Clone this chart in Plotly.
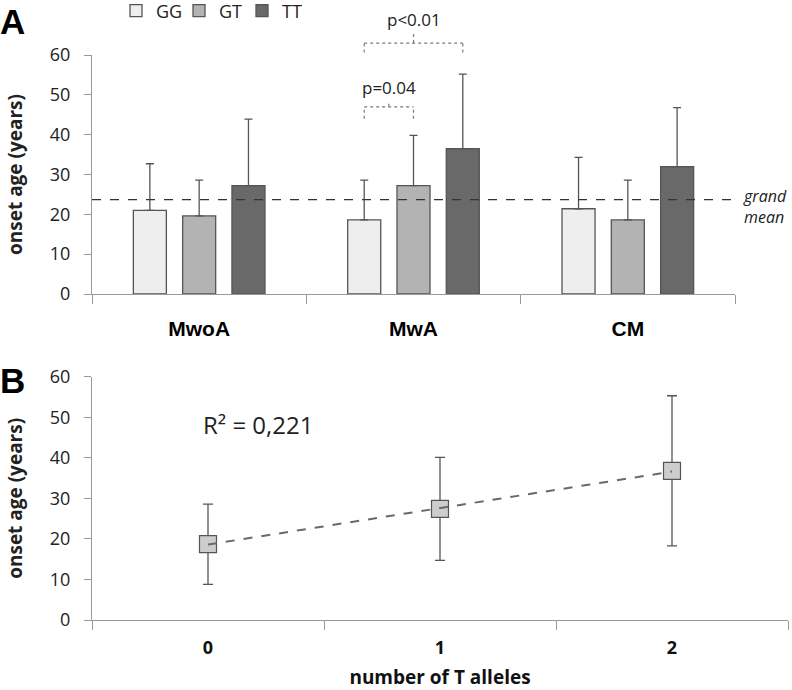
import plotly.graph_objects as go

# ---------------- data ----------------
categories = ["MwoA", "MwA", "CM"]
genotypes = ["GG", "GT", "TT"]
gg_mean = [21.0, 18.6, 21.4]
gt_mean = [19.6, 27.2, 18.6]
tt_mean = [27.2, 36.5, 32.0]
gg_sd = [11.7, 10.0, 12.9]
gt_sd = [9.0, 12.6, 10.0]
tt_sd = [16.7, 18.7, 14.8]
grand_mean = 23.7

t_alleles = ["0", "1", "2"]
b_mean = [18.7, 27.4, 36.8]
b_sd = [9.9, 12.7, 18.5]
trend_x = ["0", "2"]
trend_y = [18.6, 36.6]
r2_text = "R² = 0,221"

y_ticks = [0, 10, 20, 30, 40, 50, 60]

# ---------------- style ----------------
bar_colors = ["#eeeeee", "#b3b3b3", "#696969"]
edge = "#555555"
axis_col = "#9a9a9a"
FONT = "Open Sans"
W, H = 792, 690
ML, MR = 92, 4
PW = W - ML - MR


def py(p):  # pixel y -> paper y
    return 1 - p / H


def px(p):  # pixel x -> paper x
    return (p - ML) / PW


fig = go.Figure()

means = [gg_mean, gt_mean, tt_mean]
sds = [gg_sd, gt_sd, tt_sd]
for g, m, s, c in zip(genotypes, means, sds, bar_colors):
    fig.add_trace(go.Bar(
        x=categories, y=m, name=g, xaxis="x", yaxis="y",
        marker=dict(color=c, line=dict(color=edge, width=1.3)),
        error_y=dict(type="data", array=s, arrayminus=[0] * len(s), symmetric=False,
                     color="#555555", thickness=1.3, width=4),
    ))

fig.add_trace(go.Scatter(
    x=t_alleles, y=b_mean, mode="markers", xaxis="x2", yaxis="y2", showlegend=False,
    marker=dict(symbol="square", size=17, color="#cdcdcd", line=dict(color="#555555", width=1.2)),
    error_y=dict(type="data", array=b_sd, color="#555555", thickness=1.3, width=5),
))
fig.add_trace(go.Scatter(
    x=trend_x, y=trend_y, mode="lines", xaxis="x2", yaxis="y2", showlegend=False,
    line=dict(color="#6a6a6a", width=2, dash="dash"),
))

# bar layout geometry
bargap = 0.31
slot = (1 - bargap) / 3

def xdom(cat_idx, grp_idx):
    return (cat_idx + 0.5 + (grp_idx - 1) * slot) / 3

shapes = [
    dict(type="line", xref="x domain", yref="y", x0=0, x1=1, y0=grand_mean, y1=grand_mean,
         line=dict(color="#333333", width=1.3, dash="dash")),
]
dot = dict(color="#7a7a7a", width=1.2, dash="dot")

def bracket(x0, x1, y_leg, y_bar, y_top):
    xm = (x0 + x1) / 2
    return [
        dict(type="line", xref="x domain", yref="y domain", x0=x0, x1=x0, y0=y_leg / 60, y1=y_bar / 60, line=dot),
        dict(type="line", xref="x domain", yref="y domain", x0=x1, x1=x1, y0=y_leg / 60, y1=y_bar / 60, line=dot),
        dict(type="line", xref="x domain", yref="y domain", x0=x0, x1=x1, y0=y_bar / 60, y1=y_bar / 60, line=dot),
        dict(type="line", xref="x domain", yref="y domain", x0=xm, x1=xm, y0=y_bar / 60, y1=y_top / 60, line=dot),
    ]

shapes += bracket(xdom(1, 0), xdom(1, 1), 44.0, 47.0, 48.2)
shapes += bracket(xdom(1, 0), xdom(1, 2), 60.6, 63.0, 65.6)

annotations = [
    dict(text="p=0.04", xref="x domain", yref="y domain", x=(xdom(1, 0) + xdom(1, 1)) / 2, y=51.8 / 60,
         xanchor="center", yanchor="middle",
         showarrow=False, font=dict(family=FONT, size=17, color="#222")),
    dict(text="p<0.01", xref="x domain", yref="y domain", x=(xdom(1, 0) + xdom(1, 2)) / 2, y=68.8 / 60,
         xanchor="center", yanchor="middle",
         showarrow=False, font=dict(family=FONT, size=17, color="#222")),
    dict(text="<i>grand<br>mean</i>", xref="paper", yref="y", x=px(741), y=22.0, xanchor="left",
         yanchor="middle", align="left", showarrow=False, font=dict(family=FONT, size=16, color="#222")),
    dict(text=r2_text, xref="paper", yref="y2", x=px(201), y=48.3, xanchor="left", yanchor="middle",
         showarrow=False, font=dict(family=FONT, size=24, color="#222")),
    dict(text="<b>A</b>", xref="paper", yref="paper", x=px(-2), y=1.0, xanchor="left", yanchor="top",
         showarrow=False, font=dict(family="Liberation Sans", size=35, color="#000")),
    dict(text="<b>B</b>", xref="paper", yref="paper", x=px(-2), y=py(380), xanchor="left", yanchor="middle",
         showarrow=False, font=dict(family="Liberation Sans", size=35, color="#000")),
]

yaxis_common = dict(
    range=[0, 60], tickvals=y_ticks, showline=True, linecolor=axis_col, linewidth=1.2,
    ticks="outside", ticklen=7, tickcolor=axis_col, tickwidth=1.2, showgrid=False, zeroline=False,
    tickfont=dict(family=FONT, size=18, color="#222"), ticklabelstandoff=10, automargin=False,
    title=dict(text="<b>onset age (years)</b>", font=dict(family=FONT, size=19, color="#222"), standoff=22),
)

fig.update_layout(
    width=W, height=H, template="none",
    paper_bgcolor="white", plot_bgcolor="white",
    margin=dict(l=ML, r=MR, t=0, b=0, autoexpand=False),
    barmode="group", bargap=bargap, bargroupgap=0.33,
    xaxis=dict(domain=[0, px(735)], anchor="y", type="category", range=[-0.5, 2.5], showline=True,
               linecolor=axis_col, linewidth=1.2, ticks="outside", tickson="boundaries", ticklen=9,
               tickcolor=axis_col, tickwidth=1.2, showgrid=False, zeroline=False, automargin=False,
               tickfont=dict(family="Liberation Sans", size=21, color="#000", weight="bold"),
               ticklabelstandoff=16),
    yaxis=dict(domain=[py(294), py(55)], anchor="x", **yaxis_common),
    xaxis2=dict(domain=[0, 1], anchor="y2", type="category", range=[-0.5, 2.5], showline=True,
                linecolor=axis_col, linewidth=1.2, ticks="outside", tickson="boundaries", ticklen=9,
                tickcolor=axis_col, tickwidth=1.2, showgrid=False, zeroline=False, automargin=False,
                tickfont=dict(family=FONT, size=18, color="#111", weight="bold"), ticklabelstandoff=11,
                title=dict(text="<b>number of T alleles</b>", font=dict(family=FONT, size=19, color="#111"),
                           standoff=14)),
    yaxis2=dict(domain=[py(620), py(376.7)], anchor="x2", **yaxis_common),
    legend=dict(orientation="h", x=px(116), y=py(11), xanchor="left", yanchor="middle",
                font=dict(family=FONT, size=18, color="#222"), entrywidth=18, bgcolor="rgba(0,0,0,0)"),
    shapes=shapes, annotations=annotations,
)

fig.write_html("out.html", config={"displayModeBar": False},
               post_script="document.body.style.margin='0px';")
